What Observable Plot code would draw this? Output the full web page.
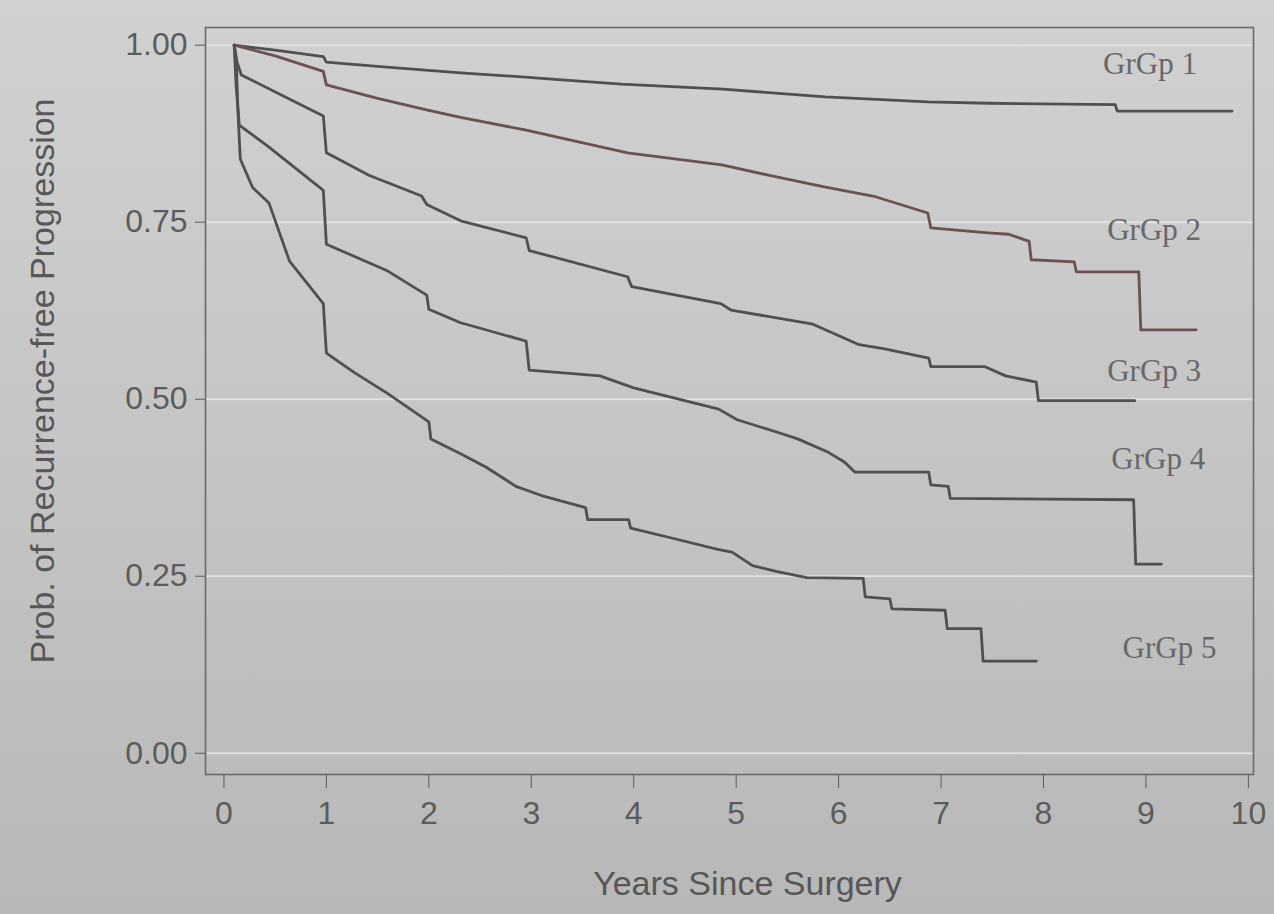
<!DOCTYPE html>
<html>
<head>
<meta charset="utf-8">
<script src="https://cdn.jsdelivr.net/npm/d3@7"></script>
<script src="https://cdn.jsdelivr.net/npm/@observablehq/plot@0.6"></script>
<style>
html, body { margin: 0; padding: 0; }
body { width: 1274px; height: 914px; overflow: hidden; background: linear-gradient(to bottom, #d0d1d0, #b7b8b7); }
#chart svg { display: block; }
</style>
</head>
<body>
<div id="chart"></div>
<script>
// Kaplan-Meier style curves: time (years) and probability
const groups = ["GrGp 1", "GrGp 2", "GrGp 3", "GrGp 4", "GrGp 5"];

const t1 = [0.1, 0.5, 0.97, 1.0, 1.5, 2.31, 2.94, 3.4, 3.88, 4.87, 5.87, 6.87, 7.47, 8.7, 8.72, 9.84];
const s1 = [1.0, 0.993, 0.984, 0.976, 0.970, 0.961, 0.955, 0.950, 0.945, 0.938, 0.927, 0.920, 0.918, 0.916, 0.907, 0.907];

const t2 = [0.1, 0.5, 0.97, 1.0, 1.5, 2.0, 2.31, 2.95, 3.94, 4.86, 5.36, 5.86, 6.36, 6.87, 6.9, 7.46, 7.66, 7.86, 7.88, 8.3, 8.32, 8.93, 8.95, 9.49];
const s2 = [1.0, 0.985, 0.963, 0.944, 0.925, 0.908, 0.898, 0.880, 0.848, 0.831, 0.815, 0.800, 0.786, 0.763, 0.742, 0.735, 0.733, 0.723, 0.697, 0.694, 0.680, 0.680, 0.598, 0.598];

const t3 = [0.1, 0.13, 0.17, 0.57, 0.97, 1.0, 1.42, 1.93, 1.98, 2.31, 2.95, 2.98, 3.94, 3.98, 4.85, 4.95, 5.75, 6.2, 6.45, 6.88, 6.9, 7.43, 7.63, 7.93, 7.95, 8.89];
const s3 = [1.0, 0.975, 0.958, 0.929, 0.900, 0.848, 0.816, 0.787, 0.775, 0.752, 0.728, 0.710, 0.673, 0.659, 0.635, 0.626, 0.606, 0.577, 0.571, 0.558, 0.546, 0.546, 0.533, 0.524, 0.498, 0.498];

const t4 = [0.1, 0.12, 0.15, 0.44, 0.97, 1.0, 1.6, 1.98, 2.0, 2.31, 2.95, 2.98, 3.67, 4.0, 4.83, 5.01, 5.41, 5.6, 5.9, 6.06, 6.16, 6.88, 6.9, 7.07, 7.09, 8.88, 8.9, 9.15];
const s4 = [1.0, 0.94, 0.887, 0.856, 0.795, 0.719, 0.681, 0.647, 0.627, 0.608, 0.582, 0.541, 0.533, 0.516, 0.486, 0.471, 0.453, 0.444, 0.425, 0.411, 0.397, 0.397, 0.379, 0.377, 0.360, 0.358, 0.267, 0.267];

const t5 = [0.1, 0.12, 0.14, 0.16, 0.28, 0.44, 0.64, 0.97, 1.0, 1.27, 1.6, 2.0, 2.02, 2.31, 2.56, 2.85, 3.1, 3.53, 3.55, 3.95, 3.97, 4.37, 4.82, 4.96, 5.16, 5.39, 5.69, 6.24, 6.26, 6.5, 6.52, 7.04, 7.06, 7.39, 7.41, 7.93];
const s5 = [1.0, 0.979, 0.895, 0.839, 0.799, 0.777, 0.695, 0.635, 0.565, 0.538, 0.508, 0.468, 0.444, 0.423, 0.404, 0.377, 0.364, 0.347, 0.330, 0.330, 0.318, 0.304, 0.288, 0.284, 0.265, 0.257, 0.248, 0.247, 0.221, 0.218, 0.204, 0.202, 0.176, 0.176, 0.130, 0.130];

// group label positions (data units)
const labelX = [9.04, 9.08, 9.08, 9.12, 9.23];
const labelY = [0.973, 0.739, 0.540, 0.415, 0.148];

const xTicks = [0, 1, 2, 3, 4, 5, 6, 7, 8, 9, 10];
const yTicks = [0, 0.25, 0.5, 0.75, 1];
const xTitle = "Years Since Surgery";
const yTitle = "Prob. of Recurrence-free Progression";
const lineColors = ["#505050", "#6b5151", "#505050", "#505050", "#505050"];

const series = [[t1, s1], [t2, s2], [t3, s3], [t4, s4], [t5, s5]];
const rows = series.flatMap(([t, s], i) => t.map((tt, j) => ({group: groups[i], t: tt, s: s[j]})));
const labels = groups.map((g, i) => ({group: g, x: labelX[i], y: labelY[i]}));

const chart = Plot.plot({
  width: 1274,
  height: 914,
  marginLeft: 205,
  marginRight: 21,
  marginTop: 27,
  marginBottom: 140,
  style: {background: "transparent", fontFamily: "'Liberation Sans', Arial, sans-serif", color: "#5a5a5a"},
  x: {domain: [-0.18, 10.05]},
  y: {domain: [-0.03, 1.025]},
  color: {domain: groups, range: lineColors},
  marks: [
    Plot.gridY(yTicks, {stroke: "#e2e3e2", strokeOpacity: 0.9, strokeWidth: 2}),
    Plot.frame({stroke: "#6a6a6a", strokeWidth: 1.6}),
    Plot.axisY({ticks: yTicks, tickFormat: d3.format(".2f"), tickSize: 10, tickPadding: 8, fontSize: 32, label: null, color: "#5c5c5c"}),
    Plot.axisX({ticks: xTicks, tickSize: 14, tickPadding: 13, fontSize: 32, label: null, color: "#5c5c5c"}),
    Plot.line(rows, {x: "t", y: "s", z: "group", stroke: "group", strokeWidth: 2.8}),
    Plot.text(labels, {x: "x", y: "y", text: "group", fontFamily: "'Liberation Serif', 'Times New Roman', serif", fontSize: 31, fill: "#686868"}),
    Plot.text([xTitle], {text: d => d, frameAnchor: "bottom", textAnchor: "middle", dy: 120, dx: 18, fontSize: 34, fill: "#575757"}),
    Plot.text([yTitle], {text: d => d, frameAnchor: "left", textAnchor: "middle", dx: -162, dy: -20, rotate: -90, fontSize: 34, fill: "#575757"})
  ]
});
document.getElementById("chart").appendChild(chart);
</script>
</body>
</html>
